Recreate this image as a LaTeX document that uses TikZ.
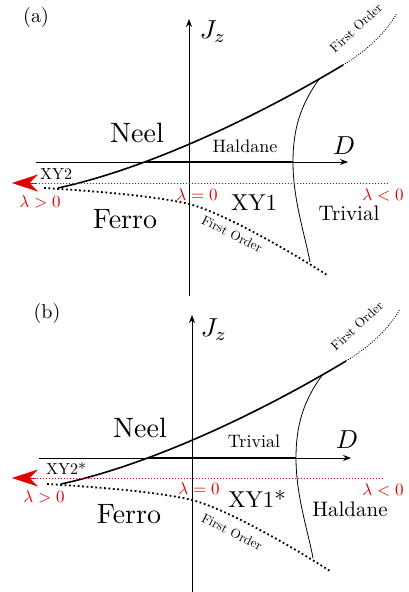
\documentclass[tikz,border=0pt]{standalone}
\usetikzlibrary{arrows.meta}
\definecolor{lamred}{RGB}{225,0,0}
\tikzset{
  axisline/.style={line width=0.7pt, -{Stealth[length=8pt,width=6pt]}},
  bnd/.style={line width=1.6pt},
  thinb/.style={line width=0.8pt},
  fo/.style={line width=1.8pt, dash pattern=on 1.8pt off 2.6pt},
  fothin/.style={line width=0.9pt, dash pattern=on 0.9pt off 1.4pt},
  lam/.style={lamred, line width=1pt, dash pattern=on 1pt off 2pt},
  lamtip/.style={lamred, -{Stealth[length=26pt,width=17pt]}},
  big/.style={scale=2.8},
  mid/.style={scale=2.3},
  reg/.style={scale=2.1},
  smalllab/.style={scale=1.8},
  xytwo/.style={scale=1.6},
  axlab/.style={scale=2.6},
  lamlab/.style={text=lamred, scale=1.7},
  folab/.style={scale=1.32, inner sep=0pt},
  plab/.style={scale=2.0},
}
\newcommand\phasecurves{%
  \coordinate (jb) at (189,296); \coordinate (jt) at (189,19);
  \coordinate (dl) at (36,162); \coordinate (dr) at (348,162);
  \coordinate (ts) at (148,162); \coordinate (te) at (293,162);
  \draw[axisline] (jb) -- (jt);
  \draw[axisline] (dl) -- (dr);
  \draw[line width=2.5pt] (ts) -- (te);
  \draw[bnd] (58,188) .. controls (150,168) and (260,115) .. (343,65);
  \draw[fothin] (343,65) .. controls (365,52) and (385,34) .. (397,13);
  \draw[thinb] (320,78) .. controls (300,105) and (293,130) .. (293,162)
               .. controls (293,200) and (305,235) .. (310,262);
  \draw[fo] (44,188) .. controls (110,192) and (160,197) .. (189,204)
            .. controls (220,212) and (280,245) .. (327,275);
}
\begin{document}
\begin{tikzpicture}[x=1pt,y=-1pt]
\useasboundingbox (0,0) rectangle (409,592);
% ---------------- panel (a)
\begin{scope}[name prefix=a-]
  \phasecurves
\end{scope}
\coordinate (ra1) at (388,183); \coordinate (ra2) at (36,183); \coordinate (ra3) at (12,183);
\draw[lam] (ra1) -- (ra2);
\draw[lamtip] (ra2) -- (ra3);
\node[plab] (pa) at (36,17) {(a)};
\node[axlab] (jza) at (213,32) {$J_z$};
\node[axlab] (da) at (344,146) {$D$};
\node[big] (neela) at (137,133) {Neel};
\node[smalllab] (halda) at (245,146) {Haldane};
\node[xytwo] (xy2a) at (56,174) {XY2};
\node[lamlab] (lpa) at (40,202) {$\lambda>0$};
\node[big] (ferroa) at (125,219) {Ferro};
\node[lamlab] (l0a) at (197,195) {$\lambda=0$};
\node[mid] (xy1a) at (254,203) {XY1};
\node[reg] (triva) at (349,213) {Trivial};
\node[lamlab] (lna) at (383,195) {$\lambda<0$};
\node[folab, rotate=-27] (foa1) at (232,234) {First Order};
\node[folab, rotate=43] (foa2) at (356,28) {First Order};
% ---------------- panel (b)
\begin{scope}[shift={(3,296)}, name prefix=b-]
  \phasecurves
\end{scope}
\coordinate (rb1) at (383,478); \coordinate (rb2) at (36,478); \coordinate (rb3) at (12,478);
\draw[lam] (rb1) -- (rb2);
\draw[lamtip] (rb2) -- (rb3);
\node[plab] (pb) at (47,313) {(b)};
\node[axlab] (jzb) at (214,330) {$J_z$};
\node[axlab] (db) at (347,440) {$D$};
\node[big] (neelb) at (140,428) {Neel};
\node[smalllab] (trivb) at (254,441) {Trivial};
\node[xytwo] (xy2b) at (66,468) {XY2*};
\node[lamlab] (lpb) at (44,497) {$\lambda>0$};
\node[big] (ferrob) at (129,514) {Ferro};
\node[lamlab] (l0b) at (199,489) {$\lambda=0$};
\node[mid] (xy1b) at (257,499) {XY1*};
\node[reg] (haldb) at (350,509) {Haldane};
\node[lamlab] (lnb) at (383,490) {$\lambda<0$};
\node[folab, rotate=-27] (fob1) at (232,532) {First Order};
\node[folab, rotate=43] (fob2) at (357,326) {First Order};
\end{tikzpicture}
\end{document}
